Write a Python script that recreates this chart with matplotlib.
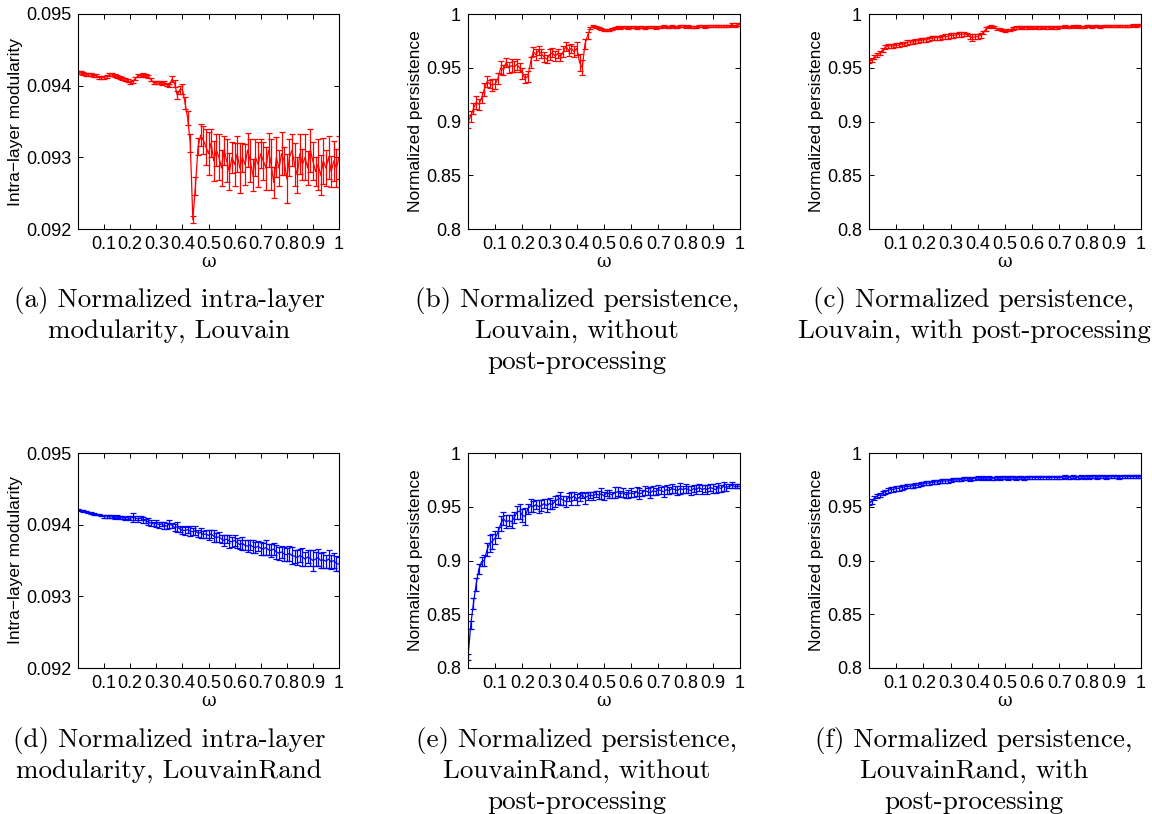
import numpy as np
import matplotlib
matplotlib.use('Agg')
import matplotlib.pyplot as plt

omega = np.round(np.arange(0, 101) * 0.01, 2)

# (a) intra-layer modularity, Louvain
mod_louvain = [0.09418, 0.09418, 0.09417, 0.09416, 0.09415, 0.09415, 0.09414, 0.09414, 0.09412, 0.09411,
               0.09412, 0.09413, 0.09415, 0.09415, 0.09414, 0.09413, 0.09411, 0.09410, 0.09409, 0.09407,
               0.09404, 0.09406, 0.09410, 0.09414, 0.09414, 0.09415, 0.09414, 0.09413, 0.09408, 0.09404,
               0.09404, 0.09404, 0.09403, 0.09404, 0.09402, 0.09400, 0.09409, 0.09403, 0.09387, 0.09394,
               0.09395, 0.09376, 0.09355, 0.09320, 0.09213, 0.09260, 0.09315, 0.09331, 0.09324, 0.09315,
               0.09305, 0.09320, 0.09295, 0.09310, 0.09300, 0.09285, 0.09310, 0.09295, 0.09280, 0.09300,
               0.09290, 0.09305, 0.09285, 0.09300, 0.09290, 0.09310, 0.09295, 0.09275, 0.09300, 0.09290,
               0.09305, 0.09295, 0.09285, 0.09310, 0.09290, 0.09265, 0.09300, 0.09285, 0.09305, 0.09295,
               0.09270, 0.09300, 0.09310, 0.09290, 0.09275, 0.09305, 0.09290, 0.09300, 0.09285, 0.09310,
               0.09295, 0.09280, 0.09290, 0.09275, 0.09295, 0.09285, 0.09300, 0.09280, 0.09295, 0.09285,
               0.09300]
mod_louvain_err = [0.00002] * 36 + [0.00004, 0.00005, 0.00006, 0.00005, 0.00007, 0.00008, 0.00010, 0.00012,
                                    0.00005, 0.00012, 0.00012, 0.00015, 0.00020] + \
                  [0.00025, 0.00030, 0.00020, 0.00028, 0.00022, 0.00032, 0.00025, 0.00020, 0.00030, 0.00026,
                   0.00022, 0.00030, 0.00025, 0.00035, 0.00020, 0.00028, 0.00024, 0.00030, 0.00022, 0.00026,
                   0.00032, 0.00020, 0.00027, 0.00030, 0.00024, 0.00035, 0.00022, 0.00028, 0.00025, 0.00030,
                   0.00020, 0.00034, 0.00026, 0.00022, 0.00030, 0.00025, 0.00028, 0.00022, 0.00032, 0.00024,
                   0.00030, 0.00026, 0.00020, 0.00035, 0.00028, 0.00032, 0.00025, 0.00030, 0.00022, 0.00028,
                   0.00026, 0.00030]

# (b) persistence, Louvain, no post-processing
pers_louvain = [0.900, 0.905, 0.912, 0.918, 0.916, 0.922, 0.930, 0.937, 0.935, 0.934,
                0.935, 0.940, 0.950, 0.948, 0.955, 0.950, 0.952, 0.951, 0.953, 0.950,
                0.945, 0.940, 0.942, 0.955, 0.965, 0.962, 0.966, 0.963, 0.960, 0.958,
                0.962, 0.964, 0.961, 0.963, 0.960, 0.965, 0.970, 0.966, 0.968, 0.965,
                0.968, 0.955, 0.950, 0.972, 0.980, 0.987, 0.989, 0.988, 0.987, 0.986,
                0.985, 0.985, 0.985, 0.986, 0.987, 0.988, 0.987, 0.988, 0.988, 0.987,
                0.988, 0.988, 0.987, 0.988, 0.988, 0.987, 0.988, 0.988, 0.988, 0.987,
                0.988, 0.988, 0.989, 0.988, 0.988, 0.989, 0.988, 0.988, 0.989, 0.989,
                0.988, 0.989, 0.988, 0.988, 0.988, 0.989, 0.989, 0.988, 0.989, 0.989,
                0.989, 0.989, 0.989, 0.989, 0.989, 0.989, 0.989, 0.990, 0.989, 0.990,
                0.990]
pers_louvain_err = [0.006, 0.005, 0.005, 0.006, 0.005, 0.005, 0.006, 0.005, 0.004, 0.006,
                    0.005, 0.005, 0.006, 0.005, 0.004, 0.005, 0.006, 0.005, 0.005, 0.004,
                    0.005, 0.004, 0.005, 0.005, 0.004, 0.005, 0.004, 0.004, 0.005, 0.004,
                    0.005, 0.004, 0.005, 0.004, 0.004, 0.005, 0.004, 0.005, 0.004, 0.005,
                    0.006, 0.008, 0.007, 0.005, 0.003] + [0.0012] * 56

# (c) persistence, Louvain, with post-processing
pers_louvain_pp = [0.956, 0.957, 0.960, 0.962, 0.964, 0.9665, 0.969, 0.970, 0.9705, 0.970,
                   0.971, 0.971, 0.972, 0.972, 0.9735, 0.974, 0.974, 0.975, 0.975, 0.9755,
                   0.976, 0.976, 0.977, 0.9775, 0.978, 0.978, 0.978, 0.9785, 0.979, 0.979,
                   0.980, 0.980, 0.9805, 0.981, 0.981, 0.9815, 0.981, 0.979, 0.978, 0.979,
                   0.979, 0.980, 0.983, 0.986, 0.988, 0.989, 0.988, 0.986, 0.986, 0.985,
                   0.9845, 0.985, 0.9855, 0.9865, 0.9875, 0.9875, 0.988, 0.9875, 0.9875, 0.988,
                   0.9875, 0.988, 0.9875, 0.9875, 0.988, 0.9875, 0.9875, 0.988, 0.9875, 0.9875,
                   0.988, 0.988, 0.9885, 0.988, 0.988, 0.9885, 0.988, 0.9885, 0.988, 0.988,
                   0.9885, 0.9885, 0.988, 0.9885, 0.9885, 0.988, 0.9885, 0.9885, 0.989, 0.9885,
                   0.989, 0.989, 0.9885, 0.989, 0.989, 0.989, 0.989, 0.9895, 0.989, 0.9895,
                   0.990]
pers_louvain_pp_err = [0.002] * 36 + [0.0015, 0.002, 0.003, 0.0025, 0.002, 0.002, 0.0015, 0.0015] + [0.001] * 57

# (d) intra-layer modularity, LouvainRand
mod_rand = [0.09421, 0.09420, 0.09419, 0.09418, 0.09417, 0.09416, 0.09415, 0.09414, 0.09414, 0.09413,
            0.09412, 0.09412, 0.09411, 0.09411, 0.09410, 0.09411, 0.09410, 0.09410, 0.09409, 0.09410,
            0.09409, 0.09410, 0.09409, 0.09408, 0.09409, 0.09407, 0.09405, 0.09404, 0.09402, 0.09401,
            0.09402, 0.09400, 0.09401, 0.09399, 0.09398, 0.09401, 0.09399, 0.09396, 0.09397, 0.09394,
            0.09392, 0.09392, 0.09393, 0.09391, 0.09390, 0.09392, 0.09388, 0.09389, 0.09386, 0.09387,
            0.09385, 0.09387, 0.09384, 0.09382, 0.09383, 0.09380, 0.09378, 0.09380, 0.09377, 0.09376,
            0.09378, 0.09375, 0.09372, 0.09374, 0.09371, 0.09370, 0.09372, 0.09369, 0.09368, 0.09370,
            0.09367, 0.09366, 0.09368, 0.09365, 0.09364, 0.09366, 0.09362, 0.09360, 0.09362, 0.09359,
            0.09358, 0.09360, 0.09357, 0.09356, 0.09354, 0.09357, 0.09355, 0.09352, 0.09355, 0.09353,
            0.09350, 0.09352, 0.09354, 0.09350, 0.09351, 0.09349, 0.09352, 0.09348, 0.09350, 0.09346,
            0.09345]
mod_rand_err = [0.00001] * 10 + [0.00002] * 10 + \
               [0.00003, 0.00006, 0.00003, 0.00004, 0.00003, 0.00004, 0.00003, 0.00005, 0.00004, 0.00003,
                0.00005, 0.00004, 0.00003, 0.00005, 0.00004, 0.00006, 0.00004, 0.00005, 0.00007, 0.00004,
                0.00005, 0.00006, 0.00004, 0.00007, 0.00005, 0.00006, 0.00005, 0.00007, 0.00005, 0.00006,
                0.00007, 0.00005, 0.00008, 0.00006, 0.00007, 0.00006, 0.00008, 0.00006, 0.00009, 0.00007,
                0.00008, 0.00007, 0.00006, 0.00009, 0.00007, 0.00008, 0.00007, 0.00009, 0.00008, 0.00007,
                0.00009, 0.00008, 0.00010, 0.00008, 0.00009, 0.00008, 0.00010, 0.00009, 0.00008, 0.00010,
                0.00009, 0.00010, 0.00012, 0.00009, 0.00010, 0.00009, 0.00013, 0.00010, 0.00009, 0.00011,
                0.00015, 0.00010, 0.00012, 0.00010, 0.00011, 0.00009, 0.00012, 0.00010, 0.00011, 0.00010,
                0.00010]

# (e) persistence, LouvainRand, no post-processing
pers_rand = [0.810, 0.840, 0.860, 0.878, 0.892, 0.899, 0.900, 0.910, 0.916, 0.918,
             0.921, 0.926, 0.934, 0.939, 0.936, 0.937, 0.936, 0.940, 0.945, 0.946,
             0.942, 0.941, 0.948, 0.951, 0.950, 0.952, 0.950, 0.951, 0.953, 0.951,
             0.953, 0.952, 0.955, 0.957, 0.958, 0.956, 0.955, 0.959, 0.958, 0.960,
             0.957, 0.959, 0.961, 0.958, 0.960, 0.961, 0.960, 0.962, 0.961, 0.962,
             0.960, 0.963, 0.962, 0.961, 0.963, 0.964, 0.962, 0.963, 0.961, 0.962,
             0.963, 0.962, 0.964, 0.962, 0.963, 0.965, 0.964, 0.963, 0.965, 0.964,
             0.966, 0.965, 0.964, 0.966, 0.965, 0.967, 0.966, 0.965, 0.967, 0.966,
             0.967, 0.966, 0.965, 0.967, 0.966, 0.968, 0.966, 0.967, 0.966, 0.968,
             0.967, 0.966, 0.968, 0.967, 0.969, 0.968, 0.969, 0.970, 0.969, 0.969,
             0.969]
pers_rand_err = [0.003, 0.004, 0.005, 0.006, 0.005, 0.004, 0.005, 0.006, 0.008, 0.007,
                 0.006, 0.005, 0.007, 0.006, 0.006, 0.005, 0.006, 0.005, 0.006, 0.007,
                 0.006, 0.008, 0.005, 0.006, 0.005, 0.004, 0.006, 0.005, 0.004, 0.006,
                 0.005, 0.004, 0.005, 0.004, 0.006, 0.004, 0.005, 0.004, 0.006, 0.004,
                 0.005, 0.004, 0.003, 0.005, 0.004, 0.003, 0.004, 0.003, 0.004, 0.005,
                 0.004, 0.003, 0.004, 0.003, 0.005, 0.004, 0.003, 0.004, 0.003, 0.004,
                 0.004, 0.003, 0.004, 0.005, 0.003, 0.004, 0.003, 0.005, 0.004, 0.003,
                 0.004, 0.003, 0.005, 0.004, 0.003, 0.004, 0.003, 0.004, 0.005, 0.003,
                 0.004, 0.003, 0.004, 0.003, 0.004, 0.003, 0.004, 0.003, 0.004, 0.003,
                 0.004, 0.003, 0.004, 0.003, 0.004, 0.003, 0.002, 0.003, 0.002, 0.002,
                 0.002]

# (f) persistence, LouvainRand, with post-processing
pers_rand_pp = [0.9535, 0.955, 0.958, 0.960, 0.961, 0.963, 0.964, 0.965, 0.966, 0.966,
                0.967, 0.967, 0.968, 0.9685, 0.969, 0.969, 0.9695, 0.970, 0.970, 0.971,
                0.9715, 0.972, 0.972, 0.9725, 0.973, 0.973, 0.9735, 0.974, 0.974, 0.974,
                0.9745, 0.975, 0.975, 0.975, 0.9755, 0.976, 0.976, 0.9755, 0.976, 0.9765,
                0.977, 0.9765, 0.977, 0.9765, 0.977, 0.9765, 0.9765, 0.977, 0.9765, 0.977,
                0.977, 0.9765, 0.977, 0.977, 0.9765, 0.977, 0.977, 0.9765, 0.977, 0.977,
                0.9775, 0.977, 0.9775, 0.977, 0.9775, 0.9775, 0.977, 0.9775, 0.9775, 0.977,
                0.9775, 0.9775, 0.978, 0.9775, 0.9775, 0.978, 0.9775, 0.9775, 0.978, 0.9775,
                0.978, 0.9775, 0.978, 0.978, 0.9775, 0.978, 0.978, 0.9775, 0.978, 0.978,
                0.978, 0.978, 0.9775, 0.978, 0.978, 0.978, 0.978, 0.978, 0.978, 0.978,
                0.978]
pers_rand_pp_err = [0.002] * 20 + [0.0015] * 81

mod_ticks = [0.092, 0.093, 0.094, 0.095]
mod_ticklabels = ['0.092', '0.093', '0.094', '0.095']
pers_ticks = [0.8, 0.85, 0.9, 0.95, 1.0]
pers_ticklabels = ['0.8', '0.85', '0.9', '0.95', '1']
x_ticks = [0.1, 0.2, 0.3, 0.4, 0.5, 0.6, 0.7, 0.8, 0.9, 1.0]
x_ticklabels = ['0.1', '0.2', '0.3', '0.4', '0.5', '0.6', '0.7', '0.8', '0.9', '1']

captions = [
    ['(a) Normalized intra-layer', 'modularity, Louvain'],
    ['(b) Normalized persistence,', 'Louvain, without', 'post-processing'],
    ['(c) Normalized persistence,', 'Louvain, with post-processing'],
    ['(d) Normalized intra-layer', 'modularity, LouvainRand'],
    ['(e) Normalized persistence,', 'LouvainRand, without', 'post-processing'],
    ['(f) Normalized persistence,', 'LouvainRand, with', 'post-processing'],
]

plt.rcParams['font.family'] = ['Liberation Sans', 'DejaVu Sans']

W, H = 1152, 814
fig = plt.figure(figsize=(W / 100, H / 100), dpi=100)

# pixel boxes: left, right, top, bottom
boxes = [(78, 339, 14, 229), (468, 740, 14, 229), (869, 1141, 14, 229),
         (78, 339, 453, 668), (468, 740, 453, 668), (869, 1141, 453, 668)]
caption_x = [169, 577, 974, 169, 577, 974]
caption_y = [300, 300, 300, 740, 740, 740]

series = [(mod_louvain, mod_louvain_err, 'r', 'mod'),
          (pers_louvain, pers_louvain_err, 'r', 'pers'),
          (pers_louvain_pp, pers_louvain_pp_err, 'r', 'pers'),
          (mod_rand, mod_rand_err, 'b', 'mod'),
          (pers_rand, pers_rand_err, 'b', 'pers'),
          (pers_rand_pp, pers_rand_pp_err, 'b', 'pers')]

for i, (y, e, c, kind) in enumerate(series):
    l, r, t, b = boxes[i]
    ax = fig.add_axes([l / W, 1 - b / H, (r - l) / W, (b - t) / H])
    ax.errorbar(omega, y, yerr=e, color=c, lw=0.9, elinewidth=0.9,
                capsize=2.0, capthick=0.9)
    ax.set_xlim(0, 1)
    ax.set_xticks(x_ticks)
    ax.set_xticklabels(x_ticklabels)
    if kind == 'mod':
        ax.set_ylim(0.092, 0.095)
        ax.set_yticks(mod_ticks)
        ax.set_yticklabels(mod_ticklabels)
        ax.set_ylabel('Intra\u2212layer modularity', fontsize=12.5, labelpad=2)
    else:
        ax.set_ylim(0.8, 1.0)
        ax.set_yticks(pers_ticks)
        ax.set_yticklabels(pers_ticklabels)
        ax.set_ylabel('Normalized persistence', fontsize=12.5, labelpad=2)
    ax.set_xlabel('\u03c9', fontsize=13, labelpad=0, family=['DejaVu Serif'])
    ax.tick_params(direction='in', top=True, right=True, length=3.5, width=0.7,
                   labelsize=13, pad=5)
    for s in ax.spines.values():
        s.set_linewidth(0.8)

    for j, line in enumerate(captions[i]):
        fig.text(caption_x[i] / W, 1 - (caption_y[i] + 31 * j) / H, line,
                 ha='center', va='center', fontsize=19.5, family=['cmr10', 'DejaVu Serif'])

fig.savefig('out.png', dpi=100)
